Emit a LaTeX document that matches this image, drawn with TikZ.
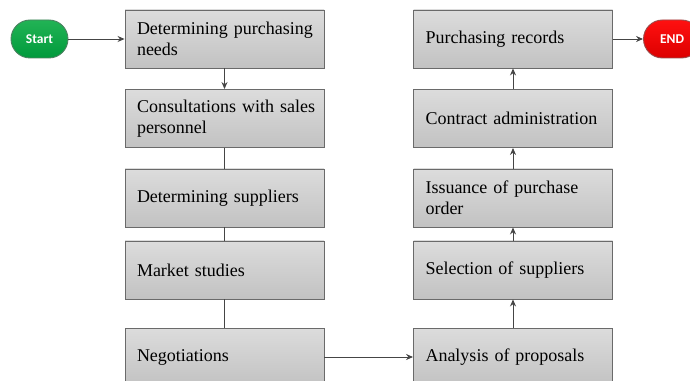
\documentclass[tikz,border=0pt]{standalone}
\usepackage{fontspec}
\setmainfont{Liberation Serif}
\newfontfamily\termfont{Carlito}
\usetikzlibrary{arrows.meta}
\hyphenpenalty=10000
\exhyphenpenalty=10000
\definecolor{boxtop}{HTML}{DCDCDC}
\definecolor{boxbot}{HTML}{C2C2C2}
\definecolor{boxedge}{HTML}{6A6A6A}
\definecolor{linec}{HTML}{454545}
\definecolor{gtop}{HTML}{22B355}
\definecolor{gbot}{HTML}{009A3C}
\definecolor{rtop}{HTML}{FF1010}
\definecolor{rbot}{HTML}{DC0000}
\tikzset{
  stepbox/.style={draw=boxedge, line width=0.9pt, top color=boxtop, bottom color=boxbot,
    minimum width=199pt, minimum height=58pt, text width=175pt, inner xsep=12pt,
    align=left, font=\fontsize{18}{20.5}\selectfont, text=black},
  term/.style={draw=#1!50!black!70, line width=0.9pt, rounded corners=19pt,
    minimum width=57pt, minimum height=38pt, text=white,
    font=\termfont\bfseries\fontsize{13.5}{15}\selectfont},
  conn/.style={draw=linec, line width=0.9pt},
  arr/.style={conn, -{Stealth[length=7pt,width=6pt]}}
}
\begin{document}
\begin{tikzpicture}[x=1pt,y=1pt]
\useasboundingbox (0,0) rectangle (690,380);
\node[term=gbot, top color=gtop, bottom color=gbot] (start) at (39.5,341) {Start};
\node[term=rbot, top color=rtop, bottom color=rbot] (end) at (672,341) {END};
\node[stepbox] (l1) at (224.5,341) {Determining~purchasing\\needs};
\node[stepbox] (l2) at (224.5,261.5) {Consultations~with~sales\\personnel};
\node[stepbox] (l3) at (224.5,182) {Determining suppliers};
\node[stepbox] (l4) at (224.5,110) {Market studies};
\node[stepbox] (l5) at (224.5,23) {Negotiations};
\node[stepbox] (r1) at (513,341) {Purchasing records};
\node[stepbox] (r2) at (513,261.5) {Contract administration};
\node[stepbox] (r3) at (513,182) {Issuance of purchase\\order};
\node[stepbox] (r4) at (513,110) {Selection of suppliers};
\node[stepbox] (r5) at (513,23) {Analysis of proposals};
\draw[arr] (start) -- (l1);
\draw[arr] (l1) -- (l2);
\draw[conn] (l2) -- (l3);
\draw[conn] (l3) -- (l4);
\draw[conn] (l4) -- (l5);
\draw[arr] (l5) -- (r5);
\draw[arr] (r5) -- (r4);
\draw[arr] (r4) -- (r3);
\draw[arr] (r3) -- (r2);
\draw[arr] (r2) -- (r1);
\draw[arr] (r1) -- (end);
\end{tikzpicture}
\end{document}
